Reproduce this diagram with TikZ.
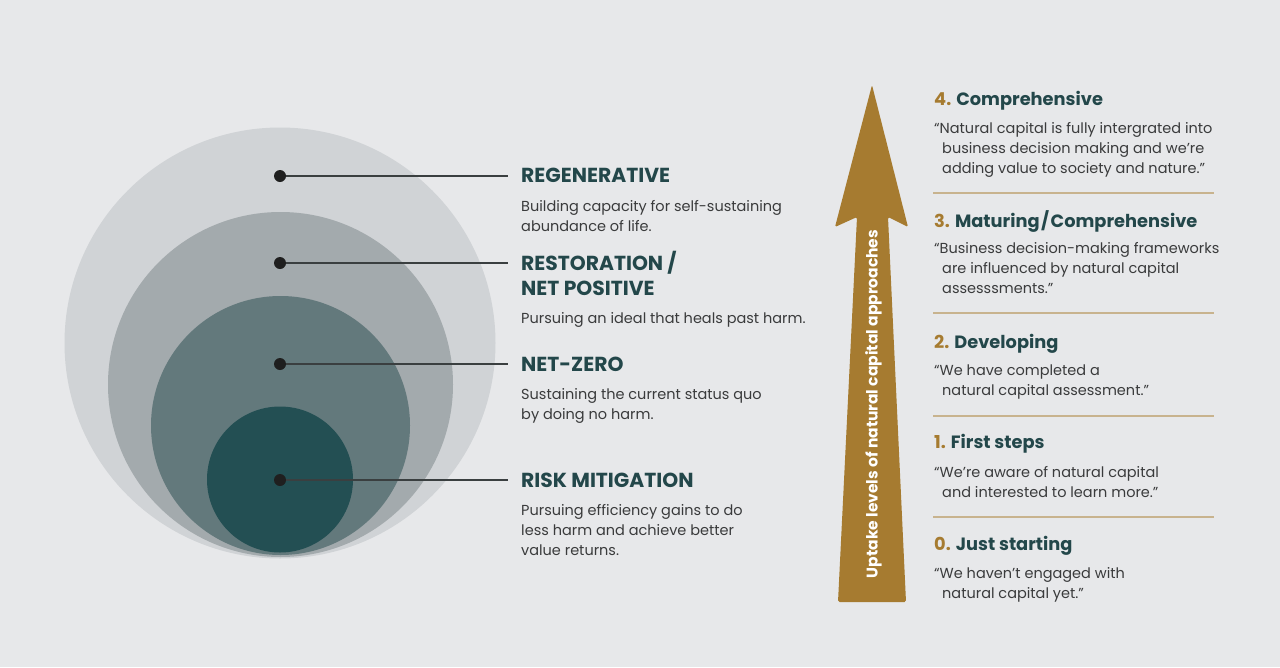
\documentclass[tikz,border=0pt]{standalone}
\usepackage{fontspec}
\setmainfont{Poppins}
\definecolor{bg}{HTML}{E7E8EA}
\definecolor{cA}{HTML}{D0D3D6}
\definecolor{cB}{HTML}{A3AAAD}
\definecolor{cC}{HTML}{63797C}
\definecolor{cD}{HTML}{234F53}
\definecolor{teal}{HTML}{23474A}
\definecolor{bodytxt}{HTML}{3A3B3C}
\definecolor{gold}{HTML}{A67B30}
\definecolor{sep}{HTML}{C8B38E}
\definecolor{leader}{HTML}{3A3F40}
\tikzset{
  dotnode/.style={circle,fill=black!88,inner sep=0pt,minimum size=12pt},
  leaderline/.style={draw=leader,line width=1.1pt},
  head/.style={anchor=base west,inner sep=0pt,text=teal,font=\bfseries\fontsize{20.3}{20}\selectfont},
  body/.style={anchor=base west,inner sep=0pt,text=bodytxt,font=\fontsize{14.5}{20}\selectfont},
  rhead/.style={anchor=base west,inner sep=0pt,text=teal,font=\bfseries\fontsize{17.8}{19}\selectfont},
  rbody/.style={anchor=base west,inner sep=0pt,text=bodytxt,font=\fontsize{14.5}{20}\selectfont},
  sepline/.style={draw=sep,line width=1.2pt},
}
\newcommand{\gnum}[1]{\textcolor{gold}{#1}}
\begin{document}
\begin{tikzpicture}[x=1pt,y=-1pt]
\fill[bg] (0,0) rectangle (1280,667);
\useasboundingbox (0,0) rectangle (1280,667);
% circles
\fill[cA] (280,343) circle[radius=215.5pt];
\fill[cB] (280.5,384.5) circle[radius=172.5pt];
\fill[cC] (280.5,425.5) circle[radius=129.5pt];
\fill[cD] (280,479.5) circle[radius=73pt];
% dots and leaders
\node[dotnode] (d1) at (280,176) {};
\node[dotnode] (d2) at (280,263) {};
\node[dotnode] (d3) at (280,364) {};
\node[dotnode] (d4) at (280,480) {};
\coordinate (e1) at (508,176);
\coordinate (e2) at (508,263);
\coordinate (e3) at (508,364);
\coordinate (e4) at (508,480);
\draw[leaderline] (d1) -- (e1);
\draw[leaderline] (d2) -- (e2);
\draw[leaderline] (d3) -- (e3);
\draw[leaderline] (d4) -- (e4);
% left texts
\node[head] (h1) at (521,182) {REGENERATIVE};
\node[body] (b1a) at (521,211) {Building capacity for self-sustaining};
\node[body] (b1b) at (521,231) {abundance of life.};
\node[head] (h2a) at (521,270) {RESTORATION\kern4pt/};
\node[head] (h2b) at (521,295) {NET POSITIVE};
\node[body] (b2a) at (521,323) {Pursuing an ideal that heals past harm.};
\node[head] (h3) at (521,371) {NET-ZERO};
\node[body] (b3a) at (521,399) {Sustaining the current status quo};
\node[body] (b3b) at (521,419) {by doing no harm.};
\node[head] (h4) at (521,487) {RISK MITIGATION};
\node[body] (b4a) at (521,515) {Pursuing efficiency gains to do};
\node[body] (b4b) at (521,535) {less harm and achieve better};
\node[body] (b4c) at (521,555) {value returns.};
% arrow
\fill[gold, rounded corners=1.5pt] (872,85) -- (908,227) -- (888,217) -- (906,602) -- (838,602) -- (857,217) -- (835,227) -- cycle;
\node[rotate=90,text=white,inner sep=0pt,font=\bfseries\fontsize{15.5}{16}\selectfont] (arrowlabel) at (873.5,404) {Uptake levels of natural capital approaches};
% right column
\node[rhead] (r4) at (934,105) {\gnum{4.} Comprehensive};
\node[rbody] (r4a) at (934,133) {“Natural capital is fully intergrated into};
\node[rbody] (r4b) at (942,153) {business decision making and we’re};
\node[rbody] (r4c) at (942,173) {adding value to society and nature.”};
\coordinate (s1a) at (933,193); \coordinate (s1b) at (1214,193);
\draw[sepline] (s1a) -- (s1b);
\node[rhead] (r3) at (934,227) {\gnum{3.} Maturing\kern1.5pt/\kern1.5pt Comprehensive};
\node[rbody] (r3a) at (934,253) {“Business decision-making frameworks};
\node[rbody] (r3b) at (942,273) {are influenced by natural capital};
\node[rbody] (r3c) at (942,293) {assesssments.”};
\coordinate (s2a) at (933,313); \coordinate (s2b) at (1214,313);
\draw[sepline] (s2a) -- (s2b);
\node[rhead] (r2) at (934,348) {\gnum{2.} Developing};
\node[rbody] (r2a) at (934,375) {“We have completed a};
\node[rbody] (r2b) at (942,395) {natural capital assessment.”};
\coordinate (s3a) at (933,416); \coordinate (s3b) at (1214,416);
\draw[sepline] (s3a) -- (s3b);
\node[rhead] (r1) at (934,448) {\gnum{1.} First steps};
\node[rbody] (r1a) at (934,477) {“We’re aware of natural capital};
\node[rbody] (r1b) at (942,497) {and interested to learn more.”};
\coordinate (s4a) at (933,517); \coordinate (s4b) at (1214,517);
\draw[sepline] (s4a) -- (s4b);
\node[rhead] (r0) at (934,550) {\gnum{0.} Just starting};
\node[rbody] (r0a) at (934,578) {“We haven’t engaged with};
\node[rbody] (r0b) at (942,598) {natural capital yet.”};
\end{tikzpicture}
\end{document}
